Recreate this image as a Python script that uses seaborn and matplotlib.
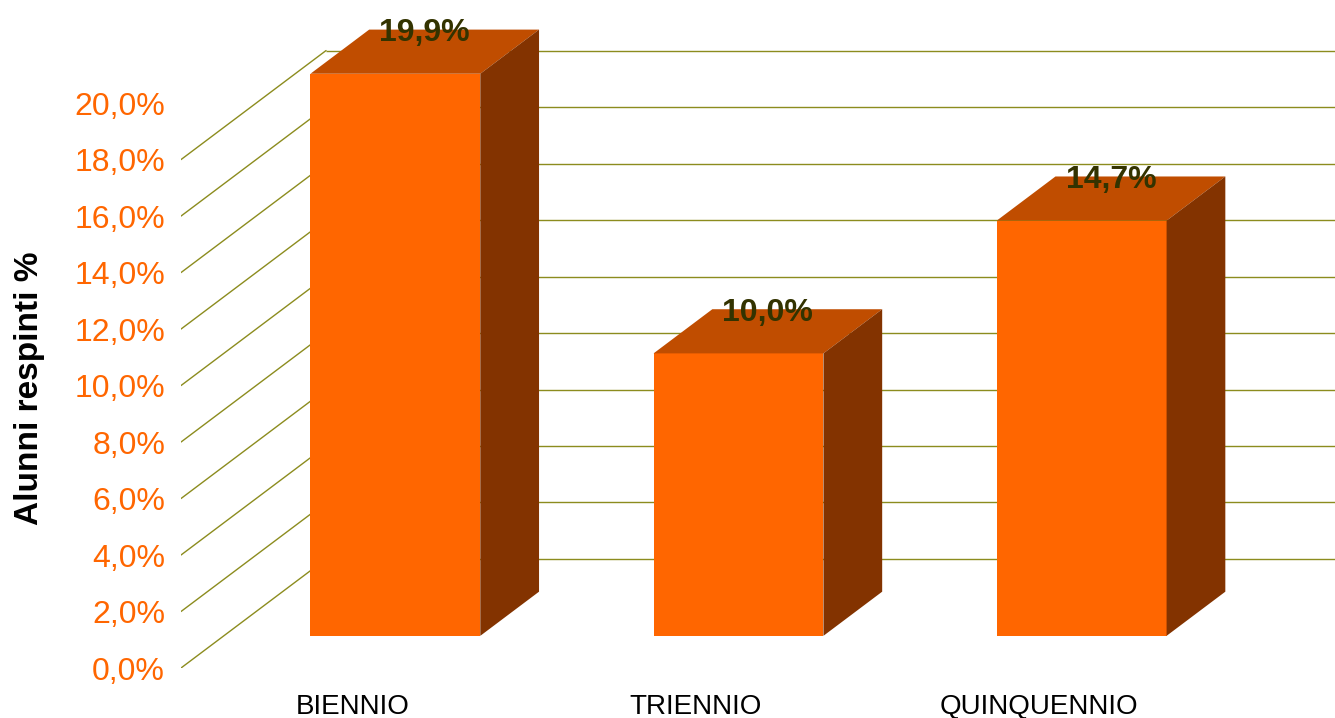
import matplotlib
matplotlib.use("Agg")
import matplotlib.pyplot as plt
from matplotlib.patches import Polygon
import pandas as pd
import seaborn as sns

categories = ["BIENNIO", "TRIENNIO", "QUINQUENNIO"]
values = [19.9, 10.0, 14.7]
value_labels = ["19,9%", "10,0%", "14,7%"]
yticks = [0, 2, 4, 6, 8, 10, 12, 14, 16, 18, 20]
ytick_labels = ["0,0%", "2,0%", "4,0%", "6,0%", "8,0%", "10,0%",
                "12,0%", "14,0%", "16,0%", "18,0%", "20,0%"]
grid_levels = yticks[:-1]  # top line falls outside the picture

# fake 3d: full depth of the box, in data units (x: categories, y: %)
DX = 0.4227
DY = 3.86
D_FRONT = 0.295
D_BACK = 0.70
BAR_W = 0.495

front_col = "#FF6600"
top_col = "#C04D00"
side_col = "#833300"
grid_col = "#8C8C1E"

sns.set_style("white")
plt.rcParams["font.family"] = ["Liberation Sans", "DejaVu Sans"]

fig = plt.figure(figsize=(13.35, 7.18), dpi=100)
ax = fig.add_axes([181 / 1335, 50 / 718, 1154 / 1335, 668 / 718])

df = pd.DataFrame({"fascia": categories, "respinti": values})
sns.barplot(data=df, x="fascia", y="respinti", color=front_col, saturation=1,
            width=BAR_W, linewidth=0, ax=ax, zorder=3)

# walls: diagonals on the left side, horizontals on the back
for lev in grid_levels:
    ax.plot([-0.5, -0.5 + DX], [lev, lev + DY], color=grid_col, lw=1, zorder=1)
    ax.hlines(lev + DY, -0.5 + DX, 2.5 + DX, color=grid_col, lw=1, zorder=1)

ddx = (D_BACK - D_FRONT) * DX
ddy = (D_BACK - D_FRONT) * DY
d_mid = (D_FRONT + D_BACK) / 2

for bar, lab in zip(list(ax.patches), value_labels):
    w = bar.get_width()
    h = bar.get_height()
    xf = bar.get_x() + D_FRONT * DX
    yf = D_FRONT * DY
    bar.set_x(xf)
    bar.set_y(yf)
    top = [(xf, yf + h), (xf + w, yf + h), (xf + w + ddx, yf + h + ddy), (xf + ddx, yf + h + ddy)]
    side = [(xf + w, yf), (xf + w, yf + h), (xf + w + ddx, yf + h + ddy), (xf + w + ddx, yf + ddy)]
    ax.add_patch(Polygon(top, closed=True, facecolor=top_col, edgecolor="none", zorder=3))
    ax.add_patch(Polygon(side, closed=True, facecolor=side_col, edgecolor="none", zorder=3))
    cx = bar.get_x() - D_FRONT * DX + w / 2 + d_mid * DX
    ax.text(cx, h + d_mid * DY + 0.65, lab, ha="center", va="center",
            fontsize=23, fontweight="bold", color="#333300", zorder=5)

ax.set_xlim(-0.5, 2.863)
ax.set_ylim(0, 23.65)
ax.set_yticks(yticks, ytick_labels)
ax.set_xticks([0, 1, 2], categories)
ax.tick_params(axis="y", length=0, pad=11.5, labelcolor=front_col, labelsize=23)
ax.tick_params(axis="x", length=0, pad=18.5, labelcolor="black", labelsize=20)
ax.set_xlabel("")
ax.set_ylabel("Alunni respinti %", fontsize=24, fontweight="bold", color="black")
ax.yaxis.set_label_coords(-0.118, 0.419)
sns.despine(ax=ax, left=True, bottom=True)
ax.grid(False)

fig.savefig("out.png", dpi=100)
